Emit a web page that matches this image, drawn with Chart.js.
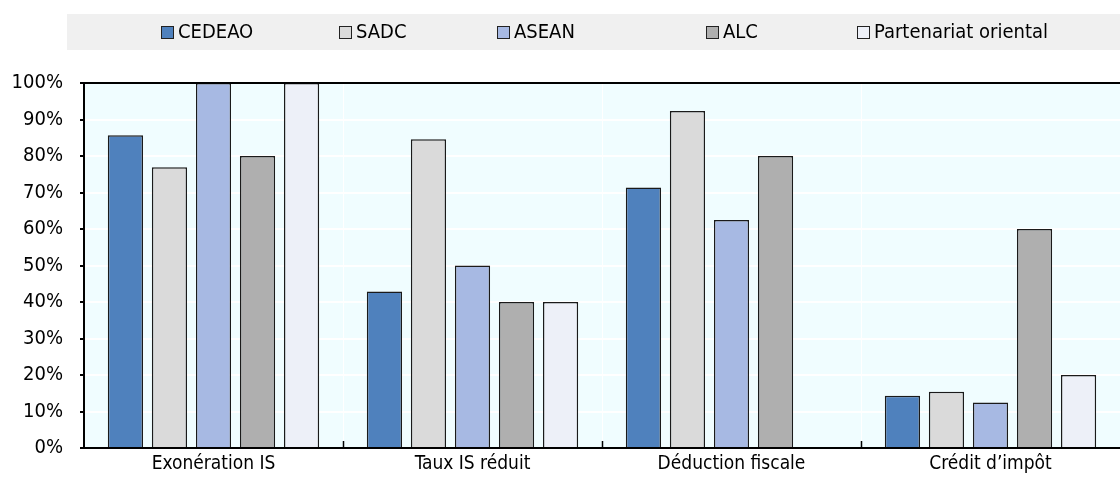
<!DOCTYPE html>
<html>
<head>
<meta charset="utf-8">
<script src="https://cdn.jsdelivr.net/npm/chart.js@4/dist/chart.umd.min.js"></script>
<style>
  html, body { margin: 0; padding: 0; background: #fff; }
  #wrap { width: 1120px; height: 482px; }
</style>
</head>
<body>
<div id="wrap"><canvas id="chart" width="1120" height="482"></canvas></div>
<script>
// Données
const categories = ['Exonération IS', 'Taux IS réduit', 'Déduction fiscale', 'Crédit d’impôt'];
const cedeao = [85.7, 42.9, 71.4, 14.3];
const sadc = [76.9, 84.6, 92.3, 15.4];
const asean = [100, 50, 62.5, 12.5];
const alc = [80, 40, 80, 60];
const partenariat = [100, 40, 0, 20];
const yTicks = [0, 10, 20, 30, 40, 50, 60, 70, 80, 90, 100];

const fontFamily = '"DejaVu Sans Condensed", "Liberation Sans Narrow", "Arial Narrow", Arial, sans-serif';
const fontSize = 20;
// colonnes de la légende
const legendCols = [161, 339, 497, 706, 857];

function serie(label, data, color) {
    return {
        label: label,
        data: data,
        backgroundColor: color,
        borderColor: '#1a1a1a',
        borderWidth: 1.5,
        borderSkipped: 'bottom',
        categoryPercentage: 0.85,
        barPercentage: 0.8
    };
}

// Fond gris + légende dessinée à la main, fond de la zone de tracé
const fonds = {
    id: 'fonds',
    beforeDraw(chart) {
        const ctx = chart.ctx;
        const a = chart.chartArea;
        ctx.save();
        ctx.fillStyle = '#F0F0F0';
        ctx.fillRect(67, 14, chart.width - 67, 36);
        ctx.fillStyle = '#F0FDFF';
        ctx.fillRect(a.left, a.top, a.right - a.left, a.bottom - a.top);

        // légende
        ctx.font = fontSize + 'px ' + fontFamily;
        ctx.textBaseline = 'middle';
        chart.data.datasets.forEach((ds, i) => {
            const x = legendCols[i];
            ctx.fillStyle = ds.backgroundColor;
            ctx.fillRect(x, 26, 12, 12);
            ctx.strokeStyle = '#222';
            ctx.lineWidth = 1;
            ctx.strokeRect(x + 0.5, 26.5, 12, 12);
            ctx.fillStyle = '#000';
            ctx.fillText(ds.label, x + 17, 33);
        });
        ctx.restore();
    },
    afterDraw(chart) {
        // petites graduations internes entre catégories + ligne du haut
        const ctx = chart.ctx;
        const a = chart.chartArea;
        const x = chart.scales.x;
        ctx.save();
        ctx.strokeStyle = '#000';
        ctx.lineWidth = 1.5;
        for (let i = 1; i < categories.length; i++) {
            const px = Math.round((x.getPixelForValue(i - 1) + x.getPixelForValue(i)) / 2) + 0.5;
            ctx.beginPath();
            ctx.moveTo(px, a.bottom);
            ctx.lineTo(px, a.bottom - 7);
            ctx.stroke();
        }
        ctx.lineWidth = 2;
        ctx.beginPath();
        ctx.moveTo(a.left, a.top);
        ctx.lineTo(a.right, a.top);
        ctx.stroke();
        ctx.restore();
    }
};

new Chart(document.getElementById('chart'), {
    type: 'bar',
    data: {
        labels: categories,
        datasets: [
            serie('CEDEAO', cedeao, '#4F81BD'),
            serie('SADC', sadc, '#DADADA'),
            serie('ASEAN', asean, '#A7B9E3'),
            serie('ALC', alc, '#AFAFAF'),
            serie('Partenariat oriental', partenariat, '#EDF0F8')
        ]
    },
    plugins: [fonds],
    options: {
        responsive: false,
        animation: false,
        layout: { padding: { top: 83, right: 0, left: 0, bottom: 0 } },
        plugins: {
            tooltip: { enabled: false },
            legend: { display: false }
        },
        scales: {
            x: {
                grid: { color: '#FFFFFF', lineWidth: 1, offset: true, drawTicks: false },
                border: { color: '#000', width: 2 },
                ticks: { color: '#000', font: { family: fontFamily, size: 19 }, padding: 5 },
                afterFit(scale) { scale.height = 34; }
            },
            y: {
                min: 0,
                max: 100,
                afterBuildTicks(scale) { scale.ticks = yTicks.map(v => ({ value: v })); },
                grid: { color: '#FFFFFF', lineWidth: 2, drawTicks: true, tickLength: 4, tickColor: '#000' },
                border: { color: '#000', width: 2 },
                ticks: {
                    color: '#000',
                    font: { family: fontFamily, size: fontSize },
                    padding: 17,
                    callback: v => v + '%'
                },
                afterFit(scale) { scale.width = 84; }
            }
        }
    }
});
</script>
</body>
</html>
